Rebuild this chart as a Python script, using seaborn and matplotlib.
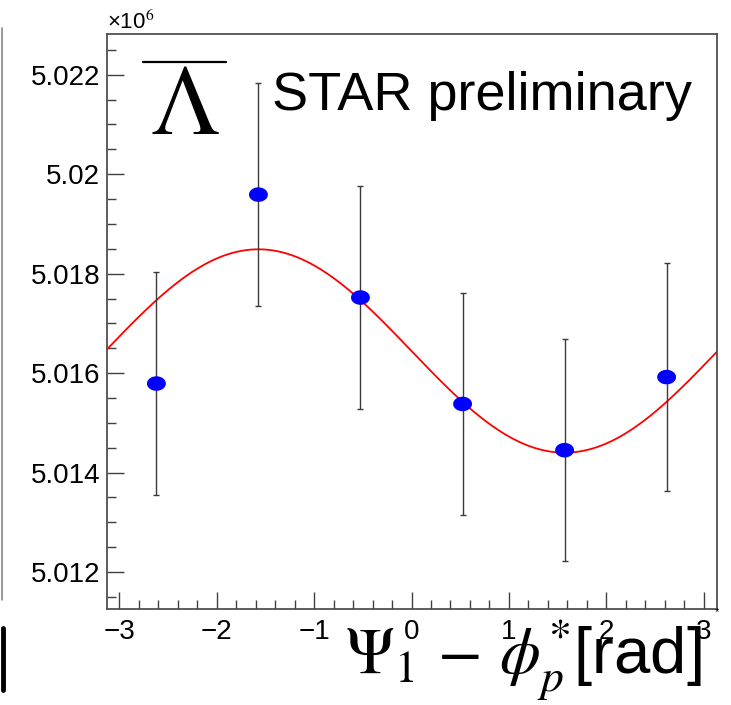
import numpy as np
import pandas as pd
import matplotlib
matplotlib.use("Agg")
import matplotlib.pyplot as plt
import seaborn as sns
from matplotlib.path import Path
from matplotlib.lines import Line2D
from matplotlib.ticker import MultipleLocator, FixedLocator, FixedFormatter

# ---- data (y in units of 10^6) ----
x_bins = [-2.618, -1.571, -0.524, 0.524, 1.571, 2.618]
y_vals = [5.01579, 5.01959, 5.01752, 5.01538, 5.01445, 5.01592]
y_errs = [0.00225, 0.00224, 0.00224, 0.00224, 0.00223, 0.00230]

fit_const = 5.016445   # fit p0
fit_amp = 0.002045     # fit amplitude of -sin term

y_ticks = [5.012, 5.014, 5.016, 5.018, 5.020, 5.022]
y_tick_labels = ["5.012", "5.014", "5.016", "5.018", "5.02", "5.022"]
x_ticks = [-3, -2, -1, 0, 1, 2, 3]
x_tick_labels = ["\u22123", "\u22122", "\u22121", "0", "1", "2", "3"]

sns.set_theme(style="white")
plt.rcParams["font.family"] = ["Liberation Sans", "DejaVu Sans"]
plt.rcParams["mathtext.fontset"] = "stix"

W, H = 731, 705
fig = plt.figure(figsize=(W / 100, H / 100), dpi=100)
fig.patch.set_facecolor("white")
L, R, T, B = 107, 716.5, 34, 609
ax = fig.add_axes([L / W, (H - B) / H, (R - L) / W, (B - T) / H])
ax.set_facecolor("white")

xmin, xmax = -3.125, 3.13
ymin, ymax = 5.011256, 5.02282

df = pd.DataFrame({"x": x_bins, "y": y_vals, "err": y_errs})

# fit curve
xf = np.linspace(xmin, xmax, 400)
fit_df = pd.DataFrame({"x": xf, "y": fit_const - fit_amp * np.sin(xf)})
sns.lineplot(data=fit_df, x="x", y="y", color="#ff0000", lw=1.3, ax=ax, zorder=2)

ax.errorbar(df["x"], df["y"], yerr=df["err"], fmt="none", ecolor="#3a3a3a",
            elinewidth=1.0, capsize=2.5, capthick=1.0, zorder=3)

t = np.linspace(0, 2 * np.pi, 60)
ell = Path(np.column_stack([1.3 * np.cos(t), np.sin(t)]))
sns.scatterplot(data=df, x="x", y="y", marker=ell, s=185, color="#0000ff",
                edgecolor="none", ax=ax, zorder=4)

ax.set_xlim(xmin, xmax)
ax.set_ylim(ymin, ymax)
ax.set_xlabel("")
ax.set_ylabel("")

ax.xaxis.set_major_locator(FixedLocator(x_ticks))
ax.xaxis.set_major_formatter(FixedFormatter(x_tick_labels))
ax.xaxis.set_minor_locator(MultipleLocator(0.2))
ax.yaxis.set_major_locator(FixedLocator(y_ticks))
ax.yaxis.set_major_formatter(FixedFormatter(y_tick_labels))
ax.yaxis.set_minor_locator(MultipleLocator(0.0005))

ax.tick_params(which="major", direction="in", length=12.5, width=1.0,
               color="#404040", labelsize=20, labelcolor="black",
               top=False, right=False, bottom=True, left=True)
ax.tick_params(which="minor", direction="in", length=6.5, width=1.0,
               color="#404040", top=False, right=False, bottom=True, left=True)
ax.tick_params(axis="y", which="major", pad=5)
ax.tick_params(axis="x", which="major", pad=7)

for sp in ax.spines.values():
    sp.set_color("#505050")
    sp.set_linewidth(1.3)
    sp.set_visible(True)

# texts
fig.text(L / W, (H - 29) / H, "\u00d710$^{6}$", fontsize=16, ha="left",
         va="baseline", color="black")
fig.text(185 / W, (H - 134) / H, r"$\Lambda$", fontsize=71,
         ha="center", va="baseline", color="black")
# overline of the anti-Lambda symbol
fig.add_artist(Line2D([143 / W, 226 / W], [(H - 62) / H, (H - 62) / H],
                      color="black", lw=1.6))
fig.text(272 / W, (H - 110) / H, "STAR preliminary", fontsize=39,
         ha="left", va="baseline", color="black")
fig.text(702 / W, (H - 674) / H, r"$\Psi_{1}\,-\,\phi^{*}_{p}$[rad]",
         fontsize=47, ha="right", va="baseline", color="black")
fig.text(717 / W, (H - 612) / H, "*", fontsize=8, ha="center", va="center",
         color="black")

# fragments of neighbouring panel at left edge
fig.add_artist(Line2D([1.5 / W, 1.5 / W], [(H - 28) / H, (H - 600) / H],
                      color="#888888", lw=1.2))
fig.add_artist(Line2D([2.5 / W, 2.5 / W], [(H - 628) / H, (H - 690) / H],
                      color="black", lw=3.5))

fig.savefig("out.png", dpi=100, facecolor="white")
